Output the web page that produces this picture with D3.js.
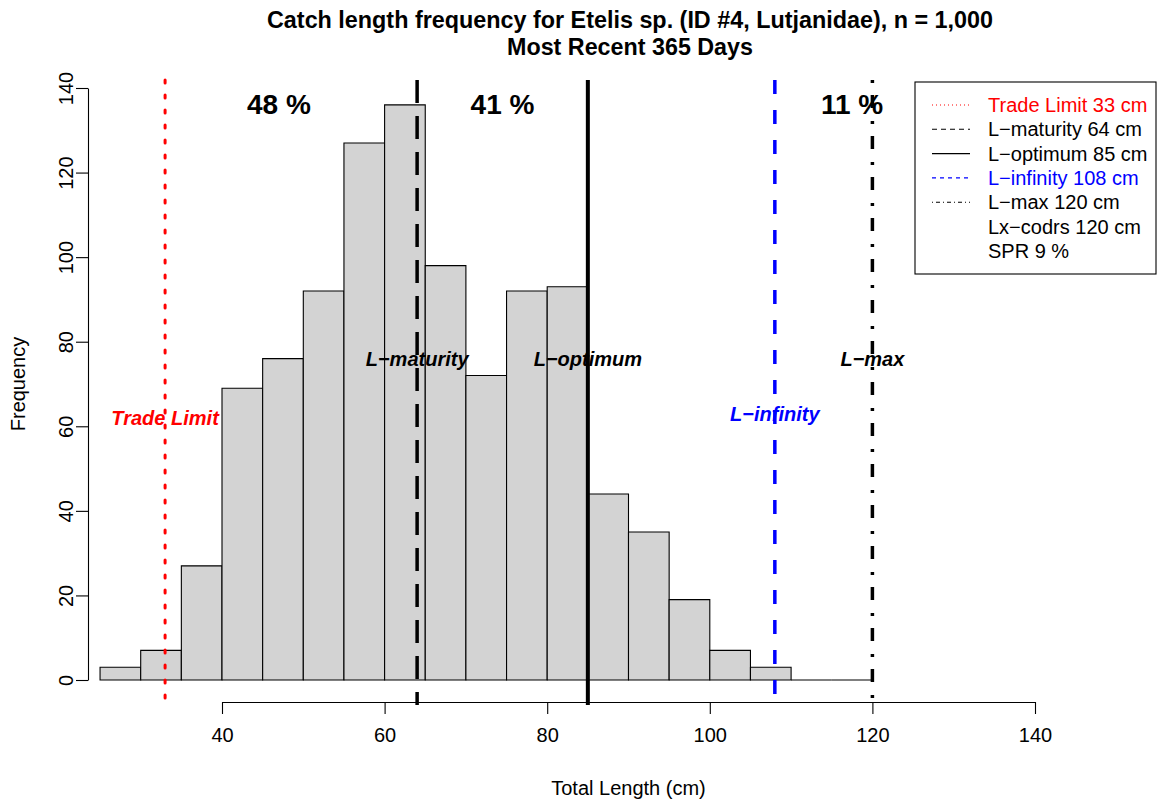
<!DOCTYPE html>
<html>
<head>
<meta charset="utf-8">
<script src="https://cdn.jsdelivr.net/npm/d3@7/dist/d3.min.js"></script>
<style>
  html, body { margin: 0; padding: 0; background: #fff; }
  svg { display: block; font-family: "Liberation Sans", Arial, sans-serif; }
</style>
</head>
<body>
<svg id="chart" width="1161" height="803"></svg>
<script>
// Histogram bins (lower edge, cm) and catch counts
const binLower = [25, 30, 35, 40, 45, 50, 55, 60, 65, 70, 75, 80, 85, 90, 95, 100, 105, 110, 115];
const binWidth = 5;
const counts   = [3, 7, 27, 69, 76, 92, 127, 136, 98, 72, 92, 93, 44, 35, 19, 7, 3, 0, 0];

// Reference lengths
const refNames  = ["Trade Limit", "L\u2212maturity", "L\u2212optimum", "L\u2212infinity", "L\u2212max"];
const refValues = [33, 64, 85, 108, 120];
const refColors = ["#ff0000", "#000000", "#000000", "#0000ff", "#000000"];
const refLabelY = [62, 76, 76, 63, 76];

// Share of catch between reference lengths
const pctLabels = ["48 %", "41 %", "11 %"];
const pctX      = [47, 74.5, 117.5];

const legendLines = ["Trade Limit 33 cm", "L\u2212maturity 64 cm", "L\u2212optimum 85 cm",
                     "L\u2212infinity 108 cm", "L\u2212max 120 cm", "Lx\u2212codrs 120 cm", "SPR 9 %"];
const legendColors = ["#ff0000", "#000000", "#000000", "#0000ff", "#000000", "#000000", "#000000"];

const xTicks = [40, 60, 80, 100, 120, 140];
const yTicks = [0, 20, 40, 60, 80, 100, 120, 140];

const svg = d3.select("#chart");
const x = d3.scaleLinear().domain([40, 140]).range([222, 1035]);
const y = d3.scaleLinear().domain([0, 140]).range([680, 88]);

const plotTop = 80, plotBottom = 705;

// line styles: dotted, dashed, solid, dashed, dot-dash
const dashThick = ["3,12", "23,13", null, "14,16", "3,12,13,13"];
const dashThin  = ["1,3", "5,4", null, "4,4", "1,3,4,3"];
const widths    = [3, 3.5, 4, 3.5, 3.5];

// Bars (paths, so empty bins still show as a line on the baseline)
svg.append("g").selectAll("path")
  .data(binLower)
  .join("path")
  .attr("d", (d, i) => {
    const x0 = x(d), x1 = x(d + binWidth), y0 = y(0), y1 = y(counts[i]);
    return `M${x0},${y0}V${y1}H${x1}V${y0}Z`;
  })
  .attr("fill", "#d3d3d3")
  .attr("stroke", "#000")
  .attr("stroke-width", 1.1);

// Reference lines
svg.append("g").selectAll("line")
  .data(refValues)
  .join("line")
  .attr("x1", (d) => x(d)).attr("x2", (d) => x(d))
  .attr("y1", plotTop).attr("y2", plotBottom)
  .attr("stroke", (d, i) => refColors[i])
  .attr("stroke-width", (d, i) => widths[i])
  .attr("stroke-linecap", (d, i) => i === 0 ? "round" : "butt")
  .attr("stroke-dasharray", (d, i) => dashThick[i]);

// Reference line labels
svg.append("g").selectAll("text")
  .data(refValues)
  .join("text")
  .attr("x", (d) => x(d))
  .attr("y", (d, i) => y(refLabelY[i]))
  .attr("text-anchor", "middle")
  .attr("dominant-baseline", "central")
  .attr("fill", (d, i) => refColors[i])
  .attr("font-size", 20)
  .attr("font-weight", "bold")
  .attr("font-style", "italic")
  .text((d, i) => refNames[i]);

// Percent labels
svg.append("g").selectAll("text")
  .data(pctLabels)
  .join("text")
  .attr("x", (d, i) => x(pctX[i]))
  .attr("y", y(136))
  .attr("text-anchor", "middle")
  .attr("dominant-baseline", "central")
  .attr("font-size", 28)
  .attr("font-weight", "bold")
  .text((d) => d);

// X axis
const xAxisY = 702;
const xAxis = svg.append("g").attr("transform", `translate(0,${xAxisY})`)
  .call(d3.axisBottom(x).tickValues(xTicks).tickSize(12).tickSizeOuter(0).tickPadding(14));
xAxis.select(".domain").attr("stroke", "#000").attr("stroke-width", 1.1);
xAxis.selectAll(".tick line").attr("stroke", "#000").attr("stroke-width", 1.1);
xAxis.selectAll("text").attr("font-size", 20).attr("font-family", "'Liberation Sans', Arial, sans-serif").attr("fill", "#000");

// Y axis
const yAxisX = 88;
const yAxis = svg.append("g").attr("transform", `translate(${yAxisX},0)`)
  .call(d3.axisLeft(y).tickValues(yTicks).tickSize(12).tickSizeOuter(0).tickPadding(10));
yAxis.select(".domain").attr("stroke", "#000").attr("stroke-width", 1.1);
yAxis.selectAll(".tick line").attr("stroke", "#000").attr("stroke-width", 1.1);
yAxis.selectAll("text")
  .attr("font-size", 20)
  .attr("font-family", "'Liberation Sans', Arial, sans-serif")
  .attr("fill", "#000")
  .attr("text-anchor", "middle")
  .attr("dy", null)
  .attr("dominant-baseline", "auto")
  .attr("x", 0).attr("y", 0)
  .attr("transform", "translate(-15,0) rotate(-90)");

// Axis titles
svg.append("text")
  .attr("x", x(90)).attr("y", 795)
  .attr("text-anchor", "middle")
  .attr("font-size", 20)
  .text("Total Length (cm)");
svg.append("text")
  .attr("transform", `translate(25,${(y(0) + y(140)) / 2}) rotate(-90)`)
  .attr("text-anchor", "middle")
  .attr("font-size", 20)
  .text("Frequency");

// Title
const titleFont = "'Liberation Sans Narrow', 'Arial Narrow', 'Liberation Sans', sans-serif";
svg.append("text")
  .attr("x", 630).attr("y", 28)
  .attr("text-anchor", "middle")
  .attr("font-size", 23).attr("font-weight", "bold")
  .attr("font-family", titleFont)
  .attr("textLength", 726).attr("lengthAdjust", "spacingAndGlyphs")
  .text("Catch length frequency for Etelis sp. (ID #4, Lutjanidae), n = 1,000");
svg.append("text")
  .attr("x", 630).attr("y", 55)
  .attr("text-anchor", "middle")
  .attr("font-size", 23).attr("font-weight", "bold")
  .attr("font-family", titleFont)
  .attr("textLength", 246).attr("lengthAdjust", "spacingAndGlyphs")
  .text("Most Recent 365 Days");

// Legend
const lg = svg.append("g");
lg.append("rect")
  .attr("x", 915).attr("y", 82).attr("width", 241).attr("height", 192)
  .attr("fill", "#fff").attr("stroke", "#000").attr("stroke-width", 1.1);
const rowY = (i) => 105 + i * 24.3;
lg.selectAll("line")
  .data(refValues)
  .join("line")
  .attr("x1", 932).attr("x2", 970)
  .attr("y1", (d, i) => rowY(i)).attr("y2", (d, i) => rowY(i))
  .attr("stroke", (d, i) => refColors[i])
  .attr("stroke-width", 1.1)
  .attr("stroke-dasharray", (d, i) => dashThin[i]);
lg.selectAll("text")
  .data(legendLines)
  .join("text")
  .attr("x", 988)
  .attr("y", (d, i) => rowY(i))
  .attr("dominant-baseline", "central")
  .attr("font-size", 20)
  .attr("fill", (d, i) => legendColors[i])
  .text((d) => d);
</script>
</body>
</html>
